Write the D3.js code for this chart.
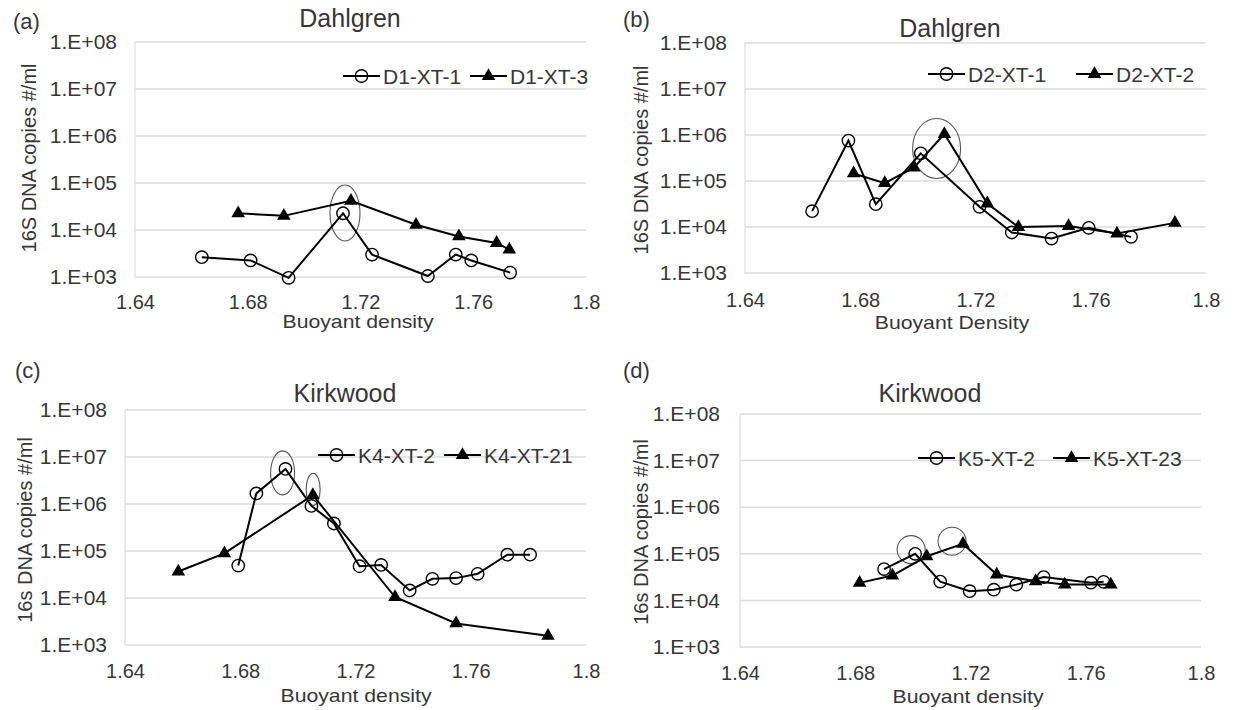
<!DOCTYPE html>
<html>
<head>
<meta charset="utf-8">
<script src="https://cdn.jsdelivr.net/npm/d3@7"></script>
<style>
  html, body { margin: 0; padding: 0; background: #fff; }
  svg { display: block; font-family: "Liberation Sans", Arial, sans-serif; }
</style>
</head>
<body>
<svg id="chart" width="1239" height="710"></svg>
<script>
// ---- data: buoyant density (g/ml) vs 16S DNA copies per ml ----
const xTicks = [1.64, 1.68, 1.72, 1.76, 1.8];
const xTickLabels = ["1.64", "1.68", "1.72", "1.76", "1.8"];
const yTicks = [1e3, 1e4, 1e5, 1e6, 1e7, 1e8];
const yTickLabels = ["1.E+03", "1.E+04", "1.E+05", "1.E+06", "1.E+07", "1.E+08"];

// (a) Dahlgren
const d1xt1Density = [1.6637, 1.681, 1.6945, 1.7138, 1.7241, 1.7439, 1.7538, 1.7593, 1.7731];
const d1xt1Copies  = [2640, 2250, 960, 22700, 3000, 1050, 3000, 2250, 1240];
const d1xt3Density = [1.6766, 1.6928, 1.7166, 1.7397, 1.7549, 1.7683, 1.7728];
const d1xt3Copies  = [22700, 20000, 41700, 12900, 7300, 5300, 3840];
const d1Highlight  = [[1.7145, 23000]];

// (b) Dahlgren
const d2xt1Density = [1.6633, 1.6759, 1.6854, 1.701, 1.7214, 1.7326, 1.7464, 1.7593, 1.774];
const d2xt1Copies  = [22100, 755000, 31400, 400000, 27500, 7600, 5600, 9600, 6100];
const d2xt2Density = [1.6777, 1.6885, 1.6986, 1.7092, 1.7241, 1.7349, 1.7523, 1.7691, 1.7892];
const d2xt2Copies  = [146000, 90000, 195000, 1050000, 32500, 10000, 10500, 7200, 12300];
const d2Highlight  = [[1.7065, 510000]];

// (c) Kirkwood
const k4xt2Density  = [1.6793, 1.6856, 1.6957, 1.7047, 1.7125, 1.7214, 1.7289, 1.7388, 1.7467, 1.7549, 1.7624, 1.7727, 1.7806];
const k4xt2Copies   = [49000, 1680000, 5570000, 910000, 385000, 47400, 50600, 14500, 25600, 26500, 32700, 83700, 83700];
const k4xt21Density = [1.6585, 1.6745, 1.7052, 1.7337, 1.7549, 1.7868];
const k4xt21Copies  = [36600, 89000, 1550000, 10500, 2880, 1570];
const k4Highlight   = [[1.6947, 4600000], [1.7053, 2050000]];

// (d) Kirkwood
const k5xt2Density  = [1.69, 1.7008, 1.7095, 1.7197, 1.7281, 1.7359, 1.7454, 1.7618, 1.7662];
const k5xt2Copies   = [47000, 100000, 25300, 15800, 17000, 21800, 31700, 24000, 25000];
const k5xt23Density = [1.6815, 1.6929, 1.7048, 1.7174, 1.7291, 1.7426, 1.7527, 1.7687];
const k5xt23Copies  = [23800, 34200, 88500, 163000, 35900, 25800, 21900, 21900];
const k5Highlight   = [[1.6994, 123000], [1.7136, 186000]];

const zip = (xs, ys) => xs.map((x, i) => ({ x, y: ys[i] }));

// ---- layout of the four panels ----
const panels = [
  {
    letter: "(a)", letterPos: [13, 29], title: "Dahlgren", titlePos: [350, 27],
    plot: { x0: 135, x1: 586, y0: 42, y1: 277 },
    yTitle: "16S DNA copies #/ml", yTitlePos: [36, 158],
    xTitle: "Buoyant density", xTitlePos: [358, 328],
    tickLabelX: 117, xLabelY: 310,
    series: [
      { name: "D1-XT-1", pts: zip(d1xt1Density, d1xt1Copies), marker: "circle" },
      { name: "D1-XT-3", pts: zip(d1xt3Density, d1xt3Copies), marker: "triangle" }
    ],
    legend: { y: 76, x: [343, 470] },
    highlights: d1Highlight.map(h => ({ x: h[0], y: h[1], rx: 15, ry: 28 }))
  },
  {
    letter: "(b)", letterPos: [623, 27], title: "Dahlgren", titlePos: [950, 37],
    plot: { x0: 745, x1: 1206, y0: 43, y1: 273 },
    yTitle: "16S DNA copies #/ml", yTitlePos: [648, 160],
    xTitle: "Buoyant Density", xTitlePos: [952, 329],
    tickLabelX: 727, xLabelY: 308,
    series: [
      { name: "D2-XT-1", pts: zip(d2xt1Density, d2xt1Copies), marker: "circle" },
      { name: "D2-XT-2", pts: zip(d2xt2Density, d2xt2Copies), marker: "triangle" }
    ],
    legend: { y: 74, x: [928, 1076] },
    highlights: d2Highlight.map(h => ({ x: h[0], y: h[1], rx: 24, ry: 30 }))
  },
  {
    letter: "(c)", letterPos: [15, 378], title: "Kirkwood", titlePos: [345, 402],
    plot: { x0: 125, x1: 586, y0: 410, y1: 645 },
    yTitle: "16s DNA copies #/ml", yTitlePos: [32, 530],
    xTitle: "Buoyant density", xTitlePos: [356, 702],
    tickLabelX: 107, xLabelY: 679,
    series: [
      { name: "K4-XT-2", pts: zip(k4xt2Density, k4xt2Copies), marker: "circle" },
      { name: "K4-XT-21", pts: zip(k4xt21Density, k4xt21Copies), marker: "triangle" }
    ],
    legend: { y: 455, x: [318, 444] },
    highlights: [
      { x: k4Highlight[0][0], y: k4Highlight[0][1], rx: 12, ry: 22 },
      { x: k4Highlight[1][0], y: k4Highlight[1][1], rx: 7, ry: 16 }
    ]
  },
  {
    letter: "(d)", letterPos: [623, 378], title: "Kirkwood", titlePos: [930, 402],
    plot: { x0: 740, x1: 1201, y0: 414, y1: 647 },
    yTitle: "16s DNA copies #/ml", yTitlePos: [648, 532],
    xTitle: "Buoyant density", xTitlePos: [968, 703],
    tickLabelX: 720, xLabelY: 681,
    series: [
      { name: "K5-XT-2", pts: zip(k5xt2Density, k5xt2Copies), marker: "circle" },
      { name: "K5-XT-23", pts: zip(k5xt23Density, k5xt23Copies), marker: "triangle" }
    ],
    legend: { y: 458, x: [918, 1053] },
    highlights: k5Highlight.map(h => ({ x: h[0], y: h[1], rx: 14, ry: 14 }))
  }
];

const svg = d3.select("#chart");
const textColor = "#363636";
const gridColor = "#dcdcdc";
const tri = d3.symbol().type(d3.symbolTriangle).size(80);

function drawMarker(g, type, x, y) {
  if (type === "circle") {
    g.append("circle").attr("cx", x).attr("cy", y).attr("r", 6.2)
      .attr("fill", "none").attr("stroke", "#000").attr("stroke-width", 1.4);
  } else {
    g.append("path").attr("d", tri()).attr("transform", `translate(${x},${y})`)
      .attr("fill", "#000");
  }
}

panels.forEach(p => {
  const g = svg.append("g");
  const x = d3.scaleLinear().domain([1.64, 1.8]).range([p.plot.x0, p.plot.x1]);
  const y = d3.scaleLog().domain([1e3, 1e8]).range([p.plot.y1, p.plot.y0]);

  // horizontal gridlines
  g.append("g").selectAll("line").data(yTicks).join("line")
    .attr("x1", p.plot.x0).attr("x2", p.plot.x1)
    .attr("y1", d => y(d)).attr("y2", d => y(d))
    .attr("stroke", gridColor).attr("stroke-width", 1.5);
  // vertical axis line
  g.append("line").attr("x1", p.plot.x0).attr("x2", p.plot.x0)
    .attr("y1", p.plot.y0).attr("y2", p.plot.y1)
    .attr("stroke", gridColor).attr("stroke-width", 1.2);

  // y tick labels
  const yAxis = d3.axisLeft(y).tickValues(yTicks)
    .tickFormat((d, i) => yTickLabels[i]).tickSize(0).tickPadding(0);
  const ya = g.append("g").attr("transform", `translate(${p.tickLabelX},0)`).call(yAxis);
  ya.select(".domain").remove();
  ya.selectAll("text").attr("fill", textColor).style("font-size", "21px")
    .style("font-family", "'Liberation Sans', Arial, sans-serif");

  // x tick labels
  const xAxis = d3.axisBottom(x).tickValues(xTicks)
    .tickFormat((d, i) => xTickLabels[i]).tickSize(0).tickPadding(0);
  const xa = g.append("g").attr("transform", `translate(0,${p.xLabelY - 15})`).call(xAxis);
  xa.select(".domain").remove();
  xa.selectAll("text").attr("fill", textColor).style("font-size", "20px")
    .style("font-family", "'Liberation Sans', Arial, sans-serif");

  // titles
  g.append("text").attr("x", p.letterPos[0]).attr("y", p.letterPos[1])
    .attr("fill", textColor).style("font-size", "22px").text(p.letter);
  g.append("text").attr("x", p.titlePos[0]).attr("y", p.titlePos[1])
    .attr("text-anchor", "middle").attr("fill", textColor).style("font-size", "25px").text(p.title);
  g.append("text").attr("transform", `translate(${p.yTitlePos[0]},${p.yTitlePos[1]}) rotate(-90)`)
    .attr("text-anchor", "middle").attr("fill", textColor).style("font-size", "20px").text(p.yTitle);
  // x title: slightly wide lettering
  g.append("text").attr("transform", `translate(${p.xTitlePos[0]},${p.xTitlePos[1]}) scale(1.18,1)`)
    .attr("text-anchor", "middle").attr("fill", textColor).style("font-size", "18px").text(p.xTitle);

  // highlight ellipses
  p.highlights.forEach(h => {
    g.append("ellipse").attr("cx", x(h.x)).attr("cy", y(h.y))
      .attr("rx", h.rx).attr("ry", h.ry)
      .attr("fill", "none").attr("stroke", "#555").attr("stroke-width", 1.1);
  });

  // series lines and markers
  const line = d3.line().x(d => x(d.x)).y(d => y(d.y));
  p.series.forEach(s => {
    g.append("path").datum(s.pts).attr("d", line)
      .attr("fill", "none").attr("stroke", "#000").attr("stroke-width", 2);
  });
  p.series.forEach(s => {
    s.pts.forEach(d => drawMarker(g, s.marker, x(d.x), y(d.y)));
  });

  // legend
  p.series.forEach((s, i) => {
    const lx = p.legend.x[i], ly = p.legend.y;
    g.append("line").attr("x1", lx).attr("x2", lx + 37).attr("y1", ly).attr("y2", ly)
      .attr("stroke", "#000").attr("stroke-width", 2);
    drawMarker(g, s.marker, lx + 18.5, ly);
    g.append("text").attr("x", lx + 40).attr("y", ly + 7.5)
      .attr("fill", textColor).style("font-size", "21px").text(s.name);
  });
});
</script>
</body>
</html>
